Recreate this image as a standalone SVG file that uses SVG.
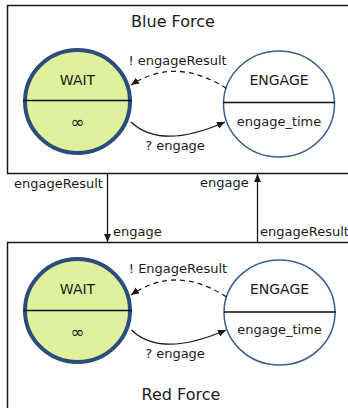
<svg xmlns="http://www.w3.org/2000/svg" width="348" height="408" viewBox="0 0 348 408">
<style>
text{font-family:"DejaVu Sans","Liberation Sans",sans-serif;fill:#1a1a1a}
.t{font-size:16px;text-anchor:middle}
.n{font-size:14px;text-anchor:middle}
.inf{font-size:17px;text-anchor:middle}
.s{font-size:13px;text-anchor:middle}
.l{font-size:13px}
.box{fill:#fff;stroke:#1a1a1a;stroke-width:1.5}
.wait{fill:#e0f19e;stroke:#2b4d7a;stroke-width:4}
.eng{fill:#fff;stroke:#3a5e8c;stroke-width:1.5}
.div{stroke:#111;stroke-width:1.5}
.c{fill:none;stroke:#1a1a1a;stroke-width:1.3}
.d{stroke-dasharray:5,4}
</style>
<defs>
<marker id="ah" markerUnits="userSpaceOnUse" markerWidth="9" markerHeight="8" refX="8" refY="3.5" orient="auto">
<path d="M0,0 L8,3.5 L0,7 z" fill="#1a1a1a"/>
</marker>
</defs>
<g id="blue-force">
<rect class="box" x="7.5" y="5.5" width="360" height="168"/>
<text class="t" x="173" y="27">Blue Force</text>
</g>
<g id="red-force">
<rect class="box" x="7.5" y="242.5" width="360" height="200"/>
<text class="t" x="181" y="400">Red Force</text>
</g>
<g id="blue-wait">
<ellipse class="wait" cx="77.5" cy="101.5" rx="52.5" ry="51.5"/>
<line class="div" x1="23" y1="100.5" x2="132" y2="100.5"/>
<text class="n" x="77.5" y="85">WAIT</text>
<text class="inf" x="77.5" y="128">∞</text>
</g>
<g id="blue-engage">
<ellipse class="eng" cx="279" cy="104" rx="55.5" ry="53"/>
<line class="div" x1="223" y1="102.5" x2="335" y2="102.5"/>
<text class="n" x="279" y="85">ENGAGE</text>
<text class="s" x="279" y="125.5">engage_time</text>
</g>
<g id="red-wait">
<ellipse class="wait" cx="77.5" cy="310.5" rx="52.5" ry="51.5"/>
<line class="div" x1="23" y1="310.5" x2="132" y2="310.5"/>
<text class="n" x="77.5" y="294">WAIT</text>
<text class="inf" x="77.5" y="337.5">∞</text>
</g>
<g id="red-engage">
<ellipse class="eng" cx="279.5" cy="312.5" rx="55.5" ry="52.5"/>
<line class="div" x1="224" y1="312" x2="336" y2="312"/>
<text class="n" x="279.5" y="293.5">ENGAGE</text>
<text class="s" x="279.5" y="334">engage_time</text>
</g>
<g id="connectors">
<path class="c d" d="M226.5,88.5 Q176,56 131,85" marker-end="url(#ah)"/>
<path class="c" d="M131,122 C150,140 180,142 225,122" marker-end="url(#ah)"/>
<path class="c d" d="M226.5,297 Q176,264 131,295" marker-end="url(#ah)"/>
<path class="c" d="M131.5,330 C150,348 180,350 226,330" marker-end="url(#ah)"/>
<line class="c" x1="107.5" y1="174" x2="107.5" y2="242" marker-end="url(#ah)"/>
<line class="c" x1="257.5" y1="242" x2="257.5" y2="174" marker-end="url(#ah)"/>
<text class="s" x="177.5" y="65">! engageResult</text>
<text class="s" x="175" y="150">? engage</text>
<text class="s" x="178" y="273">! EngageResult</text>
<text class="s" x="175" y="358">? engage</text>
<text class="l" x="14" y="188">engageResult</text>
<text class="l" x="200" y="187">engage</text>
<text class="l" x="113" y="236">engage</text>
<text class="l" x="260" y="236">engageResult</text>
</g>
</svg>
